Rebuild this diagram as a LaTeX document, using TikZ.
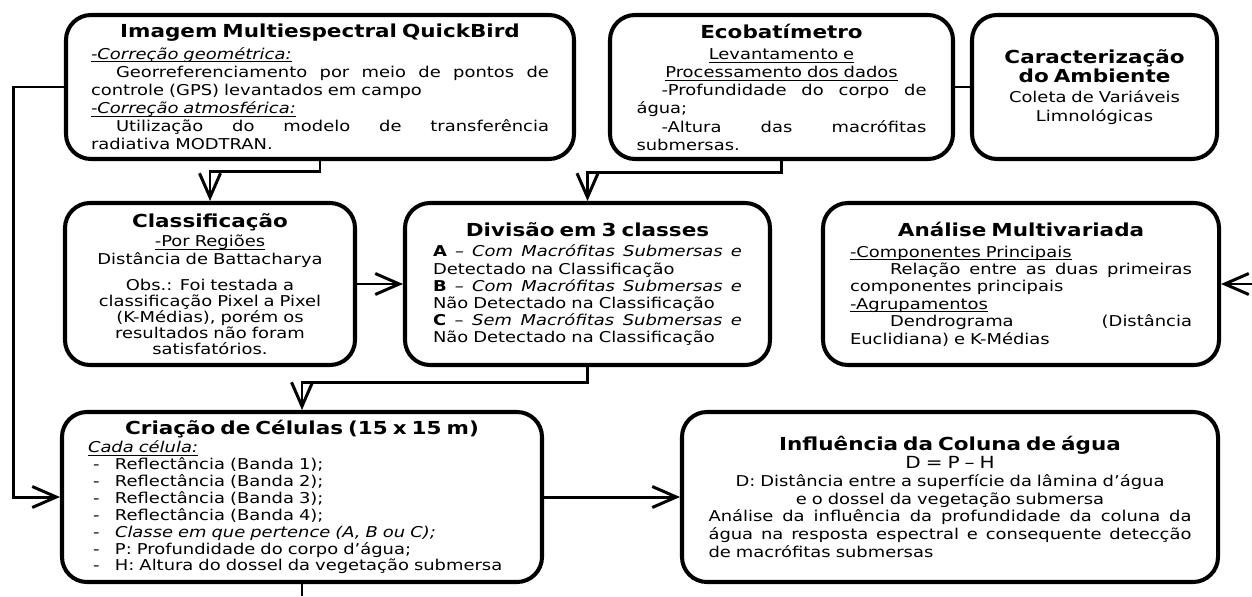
\documentclass[tikz,border=0pt]{standalone}
\usepackage{fontspec}
\setmainfont{DejaVu Sans}[FakeStretch=1.2,
  BoldFont={DejaVu Sans Bold},
  ItalicFont={DejaVu Sans Oblique},
  BoldItalicFont={DejaVu Sans Bold Oblique}]
\usetikzlibrary{arrows.meta}

\newcommand{\corpo}[1][9.6]{\fontsize{8.5}{#1}\selectfont\lineskiplimit=-\maxdimen}
\newcommand{\fullline}[1]{\makebox[\hsize][s]{\spaceskip=0pt\xspaceskip=0pt #1}}
\newcommand{\midline}[1]{\makebox[\hsize]{#1}}
\newcommand{\boxtitle}[1]{\makebox[\hsize]{\fontsize{10.2}{12}\selectfont\bfseries #1}}
\newcommand{\celitem}[1]{\makebox[5.4mm][l]{\hspace*{1mm}-}#1}
\newcommand{\sublinha}[1]{\underline{\smash{#1}}}

\begin{document}
\begin{tikzpicture}[>={Straight Barb[length=4.8mm,width=4.2mm]},
  etapa/.style={draw, line width=2.3pt, rounded corners=5mm, align=left,
    inner sep=0pt, font=\corpo},
  liga/.style={line width=1.7pt}]

\useasboundingbox (0,0) rectangle (25.04,-11.92);

% =====================
% Linhas
% =====================
\def\LinhaA{-1.74}
\def\LinhaB{-5.68}
\def\LinhaC{-9.94}

% =====================
% Entradas
% =====================
\node[etapa, minimum width=10.16cm, minimum height=2.88cm, text width=9.16cm,
  font={\corpo[10.3]}]
  (img) at (6.40,\LinhaA) {%
  \boxtitle{Imagem Multiespectral QuickBird}\\[2pt]
  \textit{\sublinha{-Correção geométrica:}}\\
  \fullline{\hspace*{5mm}Georreferenciamento por meio de pontos de}\\
  controle (GPS) levantados em campo\\
  \textit{\sublinha{-Correção atmosférica:}}\\
  \fullline{\hspace*{5mm}Utilização do modelo de transferência}\\
  radiativa MODTRAN.};

\node[etapa, minimum width=6.86cm, minimum height=2.88cm, text width=5.8cm,
  font={\corpo[10.3]}]
  (eco) at (15.63,\LinhaA) {%
  \boxtitle{Ecobatímetro}\\[2pt]
  \midline{\sublinha{Levantamento e}}\\
  \midline{\sublinha{Processamento dos dados}}\\
  \fullline{\hspace*{5mm}-Profundidade do corpo de}\\
  água;\\
  \fullline{\hspace*{5mm}-Altura das macrófitas}\\
  submersas.};

\node[etapa, minimum width=4.90cm, minimum height=2.88cm, text width=4.4cm,
  font={\corpo[10.6]}]
  (carac) at (21.89,\LinhaA) {%
  \boxtitle{Caracterização}\\
  \boxtitle{do Ambiente}\\[1pt]
  \midline{Coleta de Variáveis}\\
  \midline{Limnológicas}};

% =====================
% Processamento
% =====================
\node[etapa, minimum width=5.80cm, minimum height=3.24cm, text width=5.0cm,
  font={\corpo[9]}]
  (classif) at (4.20,\LinhaB) {%
  \boxtitle{Classificação}\\[2pt]
  \midline{\sublinha{-Por Regiões}}\\[1pt]
  \midline{Distância de Battacharya}\\[6pt]
  \midline{Obs.: Foi testada a}\\
  \midline{classificação Pixel a Pixel}\\
  \midline{(K-Médias), porém os}\\
  \midline{resultados não foram}\\
  \midline{satisfatórios.}};

\node[etapa, minimum width=7.30cm, minimum height=3.24cm, text width=6.18cm,
  font={\corpo[9.8]}]
  (divisao) at (11.75,\LinhaB) {%
  \boxtitle{Divisão em 3 classes}\\[2pt]
  \fullline{\textbf{A} – \textit{Com Macrófitas Submersas e}}\\
  Detectado na Classificação\\
  \fullline{\textbf{B} – \textit{Com Macrófitas Submersas e}}\\
  Não Detectado na Classificação\\
  \fullline{\textbf{C} – \textit{Sem Macrófitas Submersas e}}\\
  Não Detectado na Classificação};

\node[etapa, minimum width=7.92cm, minimum height=3.24cm, text width=6.84cm,
  font={\corpo[9.9]}]
  (analise) at (20.42,\LinhaB) {%
  \boxtitle{Análise Multivariada}\\[2pt]
  \sublinha{-Componentes Principais}\\
  \fullline{\hspace*{8mm}Relação entre as duas primeiras}\\
  componentes principais\\
  \sublinha{-Agrupamentos}\\
  \fullline{\hspace*{8mm}Dendrograma (Distância}\\
  Euclidiana) e K-Médias};

% =====================
% Resultados
% =====================
\node[etapa, minimum width=9.60cm, minimum height=3.40cm, text width=8.56cm,
  font={\corpo[9.6]}]
  (criacao) at (6.04,\LinhaC) {%
  \boxtitle{Criação de Células (15 x 15 m)}\\[1pt]
  \textit{\sublinha{Cada célula:}}\\
  \celitem{Reflectância (Banda 1);}\\
  \celitem{Reflectância (Banda 2);}\\
  \celitem{Reflectância (Banda 3);}\\
  \celitem{Reflectância (Banda 4);}\\
  \celitem{\textit{Classe em que pertence (A, B ou C);}}\\
  \celitem{P: Profundidade do corpo d’água;}\\
  \celitem{H: Altura do dossel da vegetação submersa}};

\node[etapa, minimum width=10.72cm, minimum height=3.40cm, text width=9.66cm,
  font={\corpo[10.1]}]
  (influencia) at (19.00,\LinhaC) {%
  \boxtitle{Influência da Coluna de água}\\
  \midline{\fontsize{9.5}{9.6}\selectfont D = P – H}\\
  \midline{D: Distância entre a superfície da lâmina d’água}\\
  \midline{e o dossel da vegetação submersa}\\
  \fullline{Análise da influência da profundidade da coluna da}\\
  \fullline{água na resposta espectral e consequente detecção}\\
  de macrófitas submersas};

% =====================
% Ligacoes
% =====================
\coordinate (baixo) at (6.04,-11.92);
\coordinate (direita) at (25.04,\LinhaB);

\draw[liga,->] (img.south) -- ++(0,-0.2) -| (classif.north);
\draw[liga,->] (img.west) -- ++(-1.0,0) |- (criacao.west);
\draw[liga] (eco.east) -- (carac.west);
\draw[liga,->] (eco.south) -- ++(0,-0.22) -| (divisao.north);
\draw[liga,->] (classif.east) -- (divisao.west);
\draw[liga,->] (divisao.south) -- ++(0,-0.3) -| (criacao.north);
\draw[liga,->] (criacao.east) -- (influencia.west);
\draw[liga] (criacao.south) -- (baixo);
\draw[liga,->] (direita) -- (analise.east);

\end{tikzpicture}
\end{document}
